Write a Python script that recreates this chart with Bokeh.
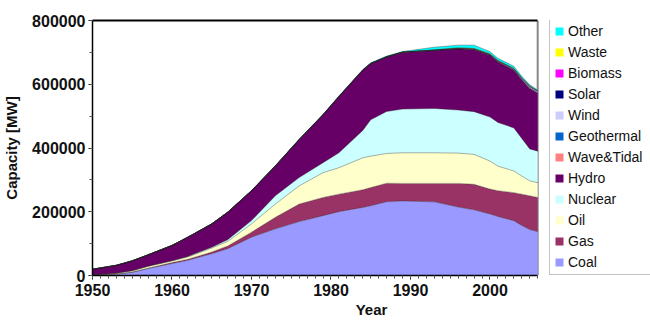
from bokeh.plotting import figure
from bokeh.models import (ColumnDataSource, Legend, LegendItem, LinearAxis,
                          FixedTicker, SingleIntervalTicker, Span, Range1d,
                          NumeralTickFormatter)
from bokeh.embed import file_html
from bokeh.resources import INLINE

# Installed generating capacity by source, MW
years = [1950, 1953, 1955, 1957, 1960, 1962, 1965, 1967, 1970, 1973, 1976, 1979,
         1981, 1984, 1985, 1987, 1989, 1993, 1996, 1998, 2000, 2001, 2003, 2004,
         2005, 2006]
coal = [1000, 4000, 10000, 22000, 37300, 47700, 68500, 84000, 120300, 146300,
        169100, 187800, 200200, 213700, 218900, 231300, 234000, 231000, 215000,
        206000, 193000, 185000, 172000, 157000, 144000, 138000]
gas = [0, 300, 700, 1000, 3200, 3100, 5200, 8300, 15600, 36300, 55000, 57000,
       55000, 55000, 57000, 58100, 55000, 58000, 74000, 80000, 78000, 81000,
       88000, 98000, 106000, 107000]
oil = [500, 2700, 4300, 6000, 5500, 7300, 12400, 14500, 25900, 41500, 57000,
       77800, 82900, 100600, 98600, 93400, 96000, 96000, 95000, 94000, 88000,
       77000, 68000, 57000, 47000, 46000]
nuclear = [0, 0, 0, 0, 0, 1900, 2900, 5200, 10400, 25900, 26000, 31100, 46700,
           85700, 114100, 131700, 137000, 139000, 135000, 134000, 138000, 137000,
           135000, 118000, 100000, 99000]
hydro = [18200, 25000, 31000, 36000, 48400, 60300, 72800, 86100, 93400, 93400,
         119200, 150400, 176400, 189200, 176400, 171200, 178000, 182000, 192000,
         194500, 194000, 190000, 181000, 183000, 190000, 182000]
wave_tidal = [0, 0, 0, 0, 0, 0, 0, 240, 240, 240, 240, 240, 240, 240, 240, 240,
              240, 240, 240, 240, 240, 240, 240, 240, 240, 240]
geothermal = [0, 0, 0, 0, 0, 0, 0, 0, 0, 0, 0, 0, 0, 0, 0, 0, 500, 500, 500, 500,
              500, 500, 500, 500, 500, 500]
wind = [0, 0, 0, 0, 0, 0, 0, 0, 0, 0, 0, 0, 0, 0, 0, 0, 0, 0, 500, 1000, 1500,
        2000, 3000, 4000, 4500, 4500]
solar = [0, 0, 0, 0, 0, 0, 0, 0, 0, 0, 0, 0, 0, 0, 0, 0, 0, 0, 0, 0, 0, 0, 100,
         100, 200, 200]
biomass = [0, 0, 0, 0, 0, 0, 0, 0, 0, 0, 0, 0, 0, 0, 0, 0, 0, 500, 1000, 1000,
           1000, 1000, 1000, 1500, 1500, 1000]
waste = [0, 0, 0, 0, 0, 0, 0, 0, 0, 0, 0, 0, 0, 0, 0, 0, 0, 1000, 1500, 1500,
         1500, 1500, 1000, 1000, 1000, 500]
other = [0, 0, 0, 0, 0, 0, 500, 500, 1000, 1000, 1500, 1500, 2000, 2000, 2000,
         2500, 2000, 8000, 8000, 10000, 6500, 6000, 6500, 4500, 3500, 3000]

names = ["Coal", "Gas", "Oil", "Nuclear", "Hydro", "Wave&Tidal", "Geothermal",
         "Wind", "Solar", "Biomass", "Waste", "Other"]
series = [coal, gas, oil, nuclear, hydro, wave_tidal, geothermal, wind, solar,
          biomass, waste, other]
colors = ["#9999FF", "#993366", "#FFFFCC", "#CCFFFF", "#660066", "#FF8080",
          "#0066CC", "#CCCCFF", "#000080", "#FF00FF", "#FFFF00", "#00FFFF"]

x_ticks = [1950, 1960, 1970, 1980, 1990, 2000]
x_minor = list(range(1950, 2007))

data = {"year": years}
for n, s in zip(names, series):
    data[n] = s
source = ColumnDataSource(data)

FONT = "Liberation Sans"

# the frame runs to the right edge so the legend can sit inside it;
# the data axis itself stops at 2006
p = figure(width=650, height=320, output_backend="svg", toolbar_location=None,
           x_range=Range1d(1950, 2020.19), y_range=Range1d(0, 800000),
           min_border_left=91, min_border_right=0, min_border_top=20,
           min_border_bottom=43)
p.outline_line_color = None
p.grid.visible = False
p.background_fill_color = "white"

# right-hand edge of the plot area, mostly hidden behind the areas
p.add_layout(Span(location=2006, dimension="height", line_color="#888888",
                  line_width=2, level="underlay"))

areas = p.varea_stack(stackers=names, x="year", color=colors, source=source)

# thin darker seams between the stacked bands
running = [0] * len(years)
for s in series:
    running = [a + b for a, b in zip(running, s)]
    p.line(years, list(running), line_color="#222222", line_width=0.8,
           line_alpha=0.45)

# outlined swatches for the legend (no data, legend only)
swatches = [p.scatter(x=[], y=[], marker="square", size=10, fill_color=c,
                      line_color="#808080", line_width=1) for c in colors]

# axes
xa = p.xaxis[0]
xa.ticker = FixedTicker(ticks=x_ticks, minor_ticks=x_minor)
xa.bounds = (1950, 2006)
xa.axis_label = "Year"
ya = p.yaxis[0]
ya.ticker = SingleIntervalTicker(interval=200000, num_minor_ticks=2)
ya.formatter = NumeralTickFormatter(format="0")
ya.axis_label = "Capacity [MW]"
for ax in (xa, ya):
    ax.axis_line_color = "black"
    ax.axis_line_width = 1.5
    ax.major_tick_line_color = "black"
    ax.minor_tick_line_color = "#555555"
    ax.major_tick_in = 0
    ax.major_tick_out = 4
    ax.minor_tick_in = 0
    ax.minor_tick_out = 3
    ax.major_label_text_font = FONT
    ax.major_label_text_font_style = "bold"
    ax.major_label_text_font_size = "16px"
    ax.major_label_text_color = "#111111"
    ax.axis_label_text_font = FONT
    ax.axis_label_text_font_style = "bold"
    ax.axis_label_text_font_size = "15px"
    ax.axis_label_text_color = "#111111"
xa.major_label_standoff = 4
xa.axis_label_standoff = 2
ya.major_label_standoff = 3
ya.axis_label_standoff = 9

# top border of the plot area
top = LinearAxis(ticker=FixedTicker(ticks=[]), axis_line_color="black",
                 axis_line_width=2, major_label_text_font_size="0px",
                 bounds=(1950, 2006))
p.add_layout(top, "above")

items = [LegendItem(label=n, renderers=[a, s])
         for n, a, s in zip(names, areas, swatches)]
items.reverse()
legend = Legend(items=items, location=(457, 0), orientation="vertical",
                glyph_width=10, glyph_height=10, label_height=16, spacing=5,
                padding=4, margin=0, label_standoff=4,
                label_text_font=FONT, label_text_font_size="14px",
                label_text_color="#111111",
                border_line_color="#888888", border_line_width=1,
                background_fill_color="white", background_fill_alpha=1,
                label_width=90)
p.add_layout(legend, "center")

open("out.html", "w").write(file_html(p, INLINE))
